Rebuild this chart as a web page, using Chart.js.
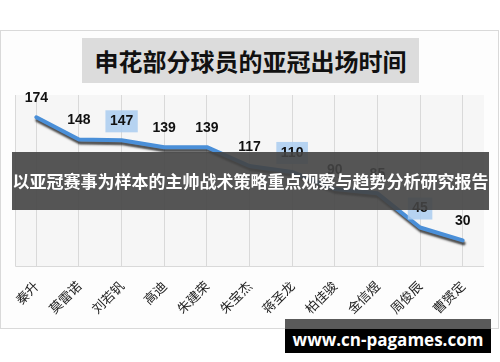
<!DOCTYPE html>
<html>
<head>
<meta charset="utf-8">
<script src="https://cdn.jsdelivr.net/npm/chart.js@4"></script>
<style>
  body { margin: 0; background: #fff; }
  #wrap { position: relative; width: 500px; height: 362px; overflow: hidden; font-family: "Noto Sans CJK SC", sans-serif; }
  #frame { position: absolute; left: 0; top: 30px; width: 497px; height: 297px; border: 1px solid #d9d9d9; background: #fdfdfd; }
  #chart { position: absolute; left: 0; top: 0; }
  #title { position: absolute; left: 82px; top: 38px; width: 337px; height: 45px; background: #dcdcdc;
           font-weight: 700; font-size: 24px; line-height: 45px; text-align: center; color: #111; white-space: nowrap; }
  #banner { position: absolute; left: 12px; top: 152px; width: 477px; height: 58px; background: rgba(68,68,68,0.9);
            color: #fff; font-weight: 700; font-size: 17px; line-height: 58px;
            display: flex; justify-content: center; white-space: nowrap; }
  #mark { position: absolute; left: 285px; top: 319px; width: 206px; height: 34px; background: #000;
          border-top: 10px solid #5a5a5a; box-sizing: border-box; color: #fff; font-family: "Open Sans", sans-serif;
          font-weight: 700; font-size: 17px; line-height: 22px; text-align: center; white-space: nowrap; }
</style>
</head>
<body>
<div id="wrap">
  <div id="frame"></div>
  <canvas id="chart" width="500" height="362"></canvas>
  <div id="title">申花部分球员的亚冠出场时间</div>
  <div id="banner"><span>以亚冠赛事为样本的主帅战术策略重点观察与趋势分析研究报告</span></div>
  <div id="mark">www.cn-pagames.com</div>
</div>
<script>
// 球员与亚冠出场时间
const jugadores = ['秦升', '莫雷诺', '刘若钒', '高迪', '朱建荣', '朱宝杰', '蒋圣龙', '柏佳骏', '金信煜', '周俊辰', '曹赟定'];
const minutos = [174, 148, 147, 139, 139, 117, 110, 90, 85, 45, 30];
// índices con etiqueta resaltada
const resaltados = [2, 6, 9];

// fondo del área de trazado
const fondoPlot = {
  id: 'fondoPlot',
  beforeDraw(chart) {
    const { ctx, chartArea: a } = chart;
    ctx.save();
    ctx.fillStyle = '#f6f6f6';
    ctx.fillRect(a.left, a.top, a.right - a.left, a.bottom - a.top);
    ctx.strokeStyle = '#d9d9d9';
    ctx.lineWidth = 1;
    ctx.beginPath();
    ctx.moveTo(a.left + 0.5, a.top);
    ctx.lineTo(a.left + 0.5, a.bottom + 0.5);
    ctx.lineTo(a.right, a.bottom + 0.5);
    ctx.stroke();
    ctx.restore();
  }
};

// sombra de la línea
const sombra = {
  id: 'sombra',
  beforeDatasetDraw(chart) {
    const ctx = chart.ctx;
    ctx.save();
    ctx.shadowColor = 'rgba(20,20,20,0.75)';
    ctx.shadowOffsetX = 1;
    ctx.shadowOffsetY = 3;
    ctx.shadowBlur = 2;
  },
  afterDatasetDraw(chart) {
    chart.ctx.restore();
  }
};

// etiquetas de valores
const etiquetas = {
  id: 'etiquetas',
  afterDatasetsDraw(chart) {
    const ctx = chart.ctx;
    const meta = chart.getDatasetMeta(0);
    ctx.save();
    ctx.font = 'bold 14px "Liberation Sans", Arial, sans-serif';
    ctx.textAlign = 'center';
    ctx.textBaseline = 'middle';
    meta.data.forEach((pt, i) => {
      const txt = String(minutos[i]);
      const y = pt.y - 19;
      if (resaltados.includes(i)) {
        const w = ctx.measureText(txt).width + 9;
        ctx.fillStyle = 'rgba(170,205,240,0.85)';
        ctx.fillRect(pt.x - w / 2, y - 11, w, 22);
      }
      ctx.fillStyle = '#111';
      ctx.fillText(txt, pt.x, y);
    });
    ctx.restore();
  }
};

new Chart(document.getElementById('chart'), {
  type: 'line',
  data: {
    labels: jugadores,
    datasets: [{
      data: minutos,
      borderColor: '#4a8fd8',
      borderWidth: 4,
      borderJoinStyle: 'round',
      borderCapStyle: 'round',
      pointRadius: 0,
      tension: 0,
      fill: false
    }]
  },
  options: {
    responsive: false,
    animation: false,
    layout: { padding: { left: 15, right: 16, top: 95, bottom: 33 } },
    plugins: { legend: { display: false }, tooltip: { enabled: false } },
    scales: {
      x: {
        offset: true,
        grid: { offset: false, color: '#d9d9d9', drawTicks: false },
        border: { display: false },
        ticks: {
          minRotation: 45,
          maxRotation: 45,
          padding: 12,
          color: '#222',
          font: { family: '"Noto Sans CJK SC", sans-serif', size: 13 }
        },
        afterFit(scale) { scale.height = 63; }
      },
      y: {
        display: false,
        min: 0,
        max: 200
      }
    }
  },
  plugins: [fondoPlot, sombra, etiquetas]
});
</script>
</body>
</html>
